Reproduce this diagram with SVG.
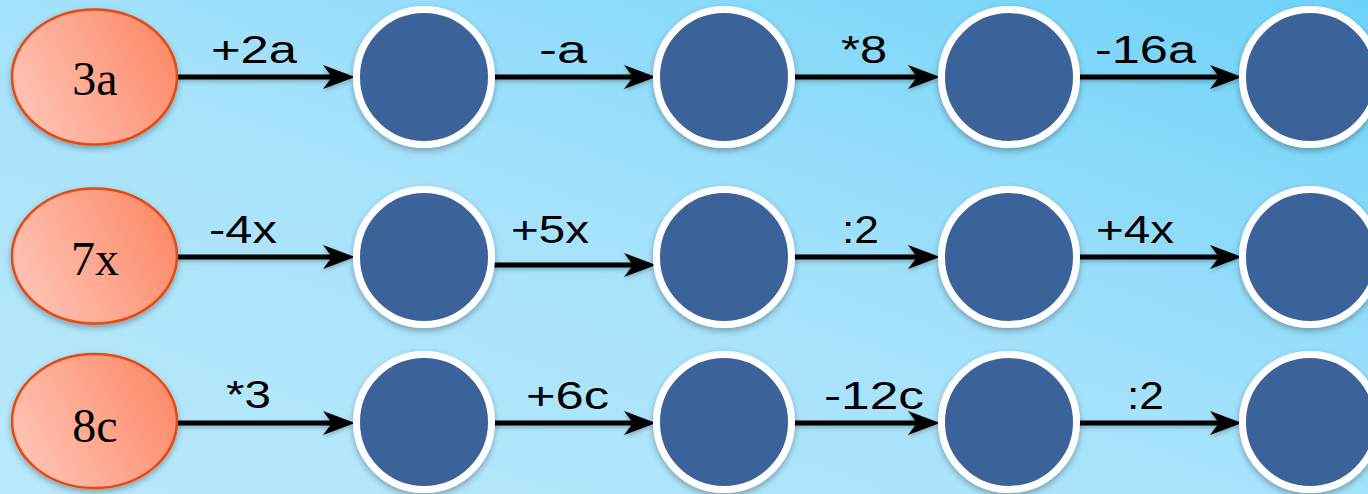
<svg xmlns="http://www.w3.org/2000/svg" xmlns:xlink="http://www.w3.org/1999/xlink" width="1368" height="494" viewBox="0 0 1368 494">
  <defs>
    <linearGradient id="bg" x1="0" y1="1" x2="1" y2="0">
      <stop offset="0" stop-color="#b9e9fb"/>
      <stop offset="0.5" stop-color="#a5e2fb"/>
      <stop offset="1" stop-color="#6ed2f9"/>
    </linearGradient>
    <linearGradient id="salmon" x1="0" y1="0.7" x2="1" y2="0.3">
      <stop offset="0" stop-color="#ffc4b6"/>
      <stop offset="1" stop-color="#fd8a68"/>
    </linearGradient>
    <filter id="shadow" x="-20%" y="-20%" width="140%" height="150%">
      <feDropShadow dx="0" dy="3" stdDeviation="3" flood-color="#000" flood-opacity="0.3"/>
    </filter>
    <filter id="ashadow" filterUnits="userSpaceOnUse" x="0" y="0" width="1368" height="494">
      <feDropShadow dx="0" dy="2" stdDeviation="2" flood-color="#000" flood-opacity="0.25"/>
    </filter>
    <marker id="arrow" markerUnits="userSpaceOnUse" viewBox="0 0 32 24" refX="12" refY="12" markerWidth="32" markerHeight="24" orient="auto">
      <path d="M0,0 L32,12 L0,24 L9,12 Z" fill="#000"/>
    </marker>
  </defs>
  <style>
    .start { fill: url(#salmon); stroke: #e8480e; stroke-width: 2.5; filter: url(#shadow); }
    .node { fill: #3a639a; stroke: #ffffff; stroke-width: 7; filter: url(#shadow); }
    .stxt { font-family: "Liberation Serif", "Times New Roman", serif; font-size: 48px; fill: #000; text-anchor: middle; }
    .edge { stroke: #000; stroke-width: 5; fill: none; marker-end: url(#arrow); }
    .lbl { font-family: "Liberation Sans", Arial, sans-serif; font-size: 38px; fill: #000; }
  </style>
  <rect x="0" y="0" width="1368" height="494" fill="url(#bg)"/>

  <g id="connectors">
    <g filter="url(#ashadow)">
      <!-- row 1 -->
      <line class="edge" x1="177" y1="77" x2="335" y2="77"/>
      <line class="edge" x1="492" y1="77" x2="636" y2="77"/>
      <line class="edge" x1="792" y1="77" x2="920" y2="77"/>
      <line class="edge" x1="1077" y1="77" x2="1222" y2="77"/>
      <!-- row 2 -->
      <line class="edge" x1="177" y1="257" x2="335" y2="257"/>
      <line class="edge" x1="492" y1="265" x2="636" y2="265"/>
      <line class="edge" x1="792" y1="257" x2="920" y2="257"/>
      <line class="edge" x1="1077" y1="257" x2="1222" y2="257"/>
      <!-- row 3 -->
      <line class="edge" x1="177" y1="423" x2="335" y2="423"/>
      <line class="edge" x1="492" y1="423" x2="636" y2="423"/>
      <line class="edge" x1="792" y1="423" x2="920" y2="423"/>
      <line class="edge" x1="1077" y1="423" x2="1222" y2="423"/>
    </g>
    <!-- labels -->
    <text class="lbl" x="211" y="63" textLength="86" lengthAdjust="spacingAndGlyphs">+2a</text>
    <text class="lbl" x="539" y="63" textLength="48" lengthAdjust="spacingAndGlyphs">-a</text>
    <text class="lbl" x="841" y="63" textLength="46" lengthAdjust="spacingAndGlyphs">*8</text>
    <text class="lbl" x="1095" y="63" textLength="101" lengthAdjust="spacingAndGlyphs">-16a</text>
    <text class="lbl" x="209" y="243" textLength="68" lengthAdjust="spacingAndGlyphs">-4x</text>
    <text class="lbl" x="511" y="243" textLength="78" lengthAdjust="spacingAndGlyphs">+5x</text>
    <text class="lbl" x="842" y="243" textLength="37" lengthAdjust="spacingAndGlyphs">:2</text>
    <text class="lbl" x="1096" y="243" textLength="78" lengthAdjust="spacingAndGlyphs">+4x</text>
    <text class="lbl" x="226" y="408" textLength="45" lengthAdjust="spacingAndGlyphs">*3</text>
    <text class="lbl" x="526" y="409" textLength="83" lengthAdjust="spacingAndGlyphs">+6c</text>
    <text class="lbl" x="824" y="409" textLength="100" lengthAdjust="spacingAndGlyphs">-12c</text>
    <text class="lbl" x="1127" y="409" textLength="37" lengthAdjust="spacingAndGlyphs">:2</text>
  </g>

  <!-- row 1 -->
  <g id="r1-start"><ellipse class="start" cx="94.5" cy="77" rx="82.5" ry="67.5"/><text class="stxt" x="95" y="95">3a</text></g>
  <g id="r1-n2"><circle class="node" cx="424" cy="77" r="67.5"/></g>
  <g id="r1-n3"><circle class="node" cx="724" cy="77" r="67.5"/></g>
  <g id="r1-n4"><circle class="node" cx="1009" cy="77" r="67.5"/></g>
  <g id="r1-n5"><circle class="node" cx="1310" cy="77" r="67.5"/></g>

  <!-- row 2 -->
  <g id="r2-start"><ellipse class="start" cx="94.5" cy="256" rx="82.5" ry="67.5"/><text class="stxt" x="95" y="275">7x</text></g>
  <g id="r2-n2"><circle class="node" cx="424" cy="257" r="67.5"/></g>
  <g id="r2-n3"><circle class="node" cx="724" cy="257" r="67.5"/></g>
  <g id="r2-n4"><circle class="node" cx="1009" cy="257" r="67.5"/></g>
  <g id="r2-n5"><circle class="node" cx="1310" cy="257" r="67.5"/></g>

  <!-- row 3 -->
  <g id="r3-start"><ellipse class="start" cx="94.5" cy="421" rx="82.5" ry="67"/><text class="stxt" x="95" y="442">8c</text></g>
  <g id="r3-n2"><circle class="node" cx="424" cy="422" r="67.5"/></g>
  <g id="r3-n3"><circle class="node" cx="724" cy="422" r="67.5"/></g>
  <g id="r3-n4"><circle class="node" cx="1009" cy="422" r="67.5"/></g>
  <g id="r3-n5"><circle class="node" cx="1310" cy="422" r="67.5"/></g>
</svg>
